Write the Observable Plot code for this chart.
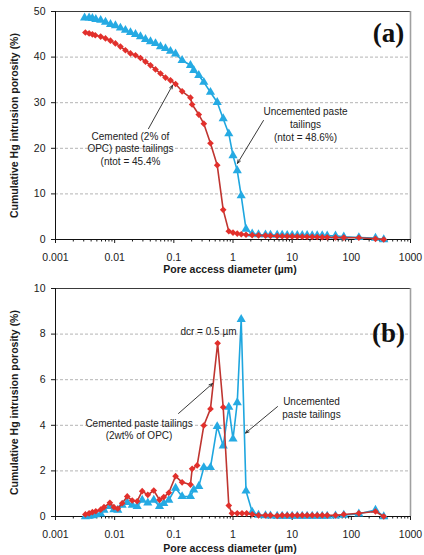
<!DOCTYPE html>
<html>
<head>
<meta charset="utf-8">
<script src="https://cdn.jsdelivr.net/npm/d3@7"></script>
<script src="https://cdn.jsdelivr.net/npm/@observablehq/plot@0.6"></script>
<style>
  html, body { margin: 0; padding: 0; background: #fff; }
  #chart svg { display: block; }
</style>
</head>
<body>
<div id="chart"></div>
<script>
// (a) cumulative intrusion curves
const cemCumDiam = [0.0032, 0.0037, 0.0042, 0.0047, 0.0058, 0.0070, 0.0085, 0.0103, 0.0125, 0.0152,
  0.0185, 0.0225, 0.0273, 0.0332, 0.0403, 0.049, 0.0595, 0.0723, 0.0878, 0.107,
  0.138, 0.191, 0.204, 0.264, 0.321, 0.416, 0.541, 0.683, 0.849, 1.0,
  1.18, 1.38, 1.66, 2.11, 2.70, 3.54, 4.30, 5.58, 6.78, 8.24,
  10.0, 12.2, 14.8, 17.9, 21.8, 26.5, 32.2, 39.1, 54, 74.5, 134, 256, 353];
const cemCumValue = [45.4, 45.2, 45.0, 44.8, 44.5, 44.1, 43.6, 43.0, 42.3, 41.5,
  40.8, 40.4, 39.8, 39.0, 38.2, 37.3, 36.4, 35.5, 34.9, 34.1,
  32.5, 31.1, 29.6, 27.4, 25.4, 21.1, 16.3, 6.5, 1.8, 1.5,
  1.3, 1.15, 1.05, 0.95, 0.9, 0.85, 0.8, 0.75, 0.72, 0.7,
  0.68, 0.65, 0.62, 0.6, 0.58, 0.55, 0.52, 0.5, 0.45, 0.42, 0.38, 0.15, 0.0];

const uncCumDiam = [0.0031, 0.0037, 0.0042, 0.0048, 0.0058, 0.0070, 0.0085, 0.0103, 0.0125, 0.0152,
  0.0185, 0.0225, 0.0273, 0.0332, 0.0403, 0.049, 0.0595, 0.0723, 0.0878, 0.107,
  0.138, 0.191, 0.217, 0.264, 0.321, 0.416, 0.541, 0.683, 0.849, 1.0,
  1.18, 1.375, 1.66, 2.11, 2.70, 3.54, 4.30, 5.58, 6.78, 8.24,
  10.0, 12.2, 14.8, 17.9, 21.8, 26.5, 32.2, 39.1, 54, 74.5, 134, 256, 353];
const uncCumValue = [48.6, 48.6, 48.5, 48.3, 48.1, 47.7, 47.2, 46.9, 46.4, 45.9,
  45.4, 45.0, 44.5, 43.9, 43.4, 43.0, 42.3, 41.9, 41.3, 40.7,
  39.3, 38.2, 37.1, 36.0, 34.5, 32.3, 30.1, 26.5, 23.2, 18.4,
  15.1, 9.6, 2.3, 1.25, 1.1, 1.05, 1.0, 1.0, 0.98, 0.95,
  0.95, 0.92, 0.9, 0.9, 0.88, 0.85, 0.85, 0.82, 0.8, 0.6, 0.45, 0.3, 0.0];

// (b) incremental intrusion curves
const cemIncDiam = [0.0032, 0.0037, 0.0042, 0.0048, 0.0058, 0.0066, 0.0083, 0.0097, 0.0113, 0.0134,
  0.0163, 0.0198, 0.024, 0.0292, 0.0363, 0.0458, 0.0573, 0.0676, 0.0822, 0.107,
  0.138, 0.191, 0.204, 0.248, 0.321, 0.416, 0.55, 0.683, 0.849, 0.96,
  1.18, 1.42, 1.7, 2.11, 2.70, 3.54, 4.30, 5.58, 6.78, 8.24,
  10.0, 12.2, 14.8, 17.9, 21.8, 26.5, 32.2, 39.1, 54, 74.5, 134, 256, 353];
const cemIncValue = [0.09, 0.14, 0.19, 0.23, 0.30, 0.41, 0.60, 0.41, 0.34, 0.58,
  0.88, 0.70, 0.67, 1.11, 0.95, 1.14, 0.73, 0.85, 1.04, 1.77,
  1.50, 1.40, 2.09, 2.24, 3.99, 4.72, 7.6, 4.79, 0.48, 0.14,
  0.14, 0.14, 0.14, 0.10, 0.05, 0.05, 0.05, 0.03, 0.05, 0.05,
  0.05, 0.05, 0.05, 0.05, 0.05, 0.05, 0.05, 0.05, 0.05, 0.09, 0.14, 0.22, 0.0];

const uncIncDiam = [0.0032, 0.0037, 0.0042, 0.0048, 0.0058, 0.0066, 0.0083, 0.0097, 0.0113, 0.0134,
  0.0163, 0.0198, 0.024, 0.0292, 0.0363, 0.0458, 0.0573, 0.0676, 0.0822, 0.107,
  0.138, 0.191, 0.217, 0.264, 0.321, 0.416, 0.541, 0.683, 0.849, 1.0,
  1.18, 1.375, 1.66, 2.11, 2.70, 3.54, 4.30, 5.58, 6.78, 8.24,
  10.0, 12.2, 14.8, 17.9, 21.8, 26.5, 32.2, 39.1, 54, 74.5, 134, 256, 353];
const uncIncValue = [0.0, 0.02, 0.04, 0.08, 0.12, 0.28, 0.45, 0.30, 0.28, 0.50,
  0.62, 0.50, 0.45, 0.72, 0.60, 0.72, 0.45, 0.58, 0.72, 1.25,
  0.88, 0.88, 1.17, 1.32, 2.15, 2.15, 3.95, 3.10, 4.80, 3.40,
  5.00, 8.65, 1.12, 0.20, 0.06, 0.04, 0.03, 0.02, 0.02, 0.02,
  0.02, 0.02, 0.02, 0.02, 0.02, 0.02, 0.02, 0.02, 0.03, 0.06, 0.12, 0.28, 0.0];

// axes
const decadeTicks = [0.001, 0.01, 0.1, 1, 10, 100, 1000];
const yTicksA = [0, 10, 20, 30, 40, 50];
const yTicksB = [0, 2, 4, 6, 8, 10];
const xTitle = "Pore access diameter (µm)";
const yTitle = "Cumulative Hg intrusion porosity (%)";

// annotations
const notesA = [
  {x: 16.8, y: 25.4, text: "Uncemented paste\ntailings\n(ntot = 48.6%)"},
  {x: 0.0185, y: 20.0, text: "Cemented (2% of\nOPC) paste tailings\n(ntot = 45.4%"}
];
const arrowsA = [
  {x1: 3.27, y1: 26.1, x2: 1.19, y2: 16.7},
  {x1: 0.0373, y1: 24.3, x2: 0.0949, y2: 33.8}
];
const notesB = [
  {x: 0.385, y: 8.16, text: "dcr = 0.5 µm"},
  {x: 21.2, y: 4.79, text: "Uncemented\npaste tailings"},
  {x: 0.0258, y: 3.84, text: "Cemented paste tailings\n(2wt% of OPC)"}
];
const arrowsB = [
  {x1: 5.65, y1: 4.82, x2: 1.63, y2: 3.66},
  {x1: 0.12, y1: 4.52, x2: 0.45, y2: 5.83}
];

const minorTicks = [];
for (let e = -3; e < 3; e++) for (let k = 2; k <= 9; k++) minorTicks.push(k * 10 ** e);

const zipSeries = (ds, vs) => ds.map((d, i) => ({d, v: vs[i]}));

const RED_LINE = "#bf3530", RED_FILL = "#e2302c";
const BLUE_LINE = "#1ea6df", BLUE_FILL = "#25aae3";

function panel({height, marginBottom, yMax, yTicks, cem, unc, notes, arrows, tag, tagY, xTitleDy}) {
  return Plot.plot({
    width: 424,
    height,
    marginTop: 11,
    marginLeft: 55,
    marginRight: 14,
    marginBottom,
    style: {fontFamily: "'Liberation Sans', Arial, sans-serif", fontSize: "10.5px", color: "#1a1a1a", background: "#fff"},
    x: {type: "log", domain: [0.001, 1000]},
    y: {domain: [0, yMax]},
    marks: [
      Plot.gridY(yTicks.filter(t => t > 0 && t < yMax), {stroke: "#b4b4b4", strokeOpacity: 1, strokeDasharray: "3,2"}),
      Plot.ruleY([yMax], {stroke: "#3a3a3a", strokeWidth: 1.2}),
      Plot.ruleX([1000], {stroke: "#a0a0a0", strokeWidth: 1.6}),
      Plot.axisY(yTicks, {tickSize: 4, tickPadding: 6, label: null}),
      Plot.axisX(minorTicks, {tickSize: 2.5, tickFormat: () => "", label: null}),
      Plot.axisX(decadeTicks, {tickSize: 4, tickPadding: 10.5, tickFormat: d => String(d), label: null}),
      Plot.ruleX([0.001], {stroke: "#111"}),
      Plot.ruleY([0], {stroke: "#111"}),
      Plot.line(unc, {x: "d", y: "v", stroke: BLUE_LINE, strokeWidth: 1.6}),
      Plot.dot(unc, {x: "d", y: "v", symbol: "triangle", fill: BLUE_FILL, r: 3.4}),
      Plot.line(cem, {x: "d", y: "v", stroke: RED_LINE, strokeWidth: 1.6}),
      Plot.dot(cem, {x: "d", y: "v", symbol: "diamond2", fill: RED_FILL, r: 3.0}),
      Plot.arrow(arrows, {x1: "x1", y1: "y1", x2: "x2", y2: "y2", stroke: "#222", strokeWidth: 0.9, headLength: 6, headAngle: 45}),
      Plot.text(notes, {x: "x", y: "y", text: "text", fontSize: 10, lineHeight: 1.28, fill: "#222"}),
      Plot.text([tag], {x: 425, y: tagY, text: d => d, fontFamily: "'Liberation Serif', 'Times New Roman', serif", fontWeight: "bold", fontSize: 27, fill: "#111"}),
      Plot.text([xTitle], {frameAnchor: "bottom", dy: xTitleDy, dx: -3, textAnchor: "middle", lineAnchor: "middle", fontWeight: "bold", fontSize: 10.5}),
      Plot.text([yTitle], {frameAnchor: "left", dx: -41, rotate: -90, textAnchor: "middle", lineAnchor: "middle", fontWeight: "bold", fontSize: 10.5})
    ]
  });
}

const chart = document.getElementById("chart");
chart.append(panel({
  height: 277, marginBottom: 38, yMax: 50, yTicks: yTicksA,
  cem: zipSeries(cemCumDiam, cemCumValue), unc: zipSeries(uncCumDiam, uncCumValue),
  notes: notesA, arrows: arrowsA, tag: "(a)", tagY: 45.2, xTitleDy: 30.5
}));
chart.append(panel({
  height: 278, marginBottom: 39, yMax: 10, yTicks: yTicksB,
  cem: zipSeries(cemIncDiam, cemIncValue), unc: zipSeries(uncIncDiam, uncIncValue),
  notes: notesB, arrows: arrowsB, tag: "(b)", tagY: 8.03, xTitleDy: 31.7
}));
</script>
</body>
</html>
